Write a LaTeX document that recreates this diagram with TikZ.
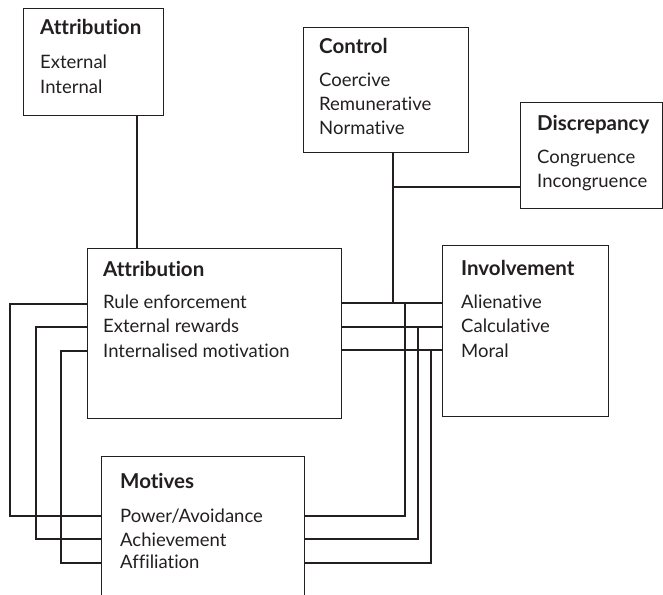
\documentclass[tikz,border=0pt]{standalone}
\usepackage{fontspec}
\setmainfont{Lato}[Ligatures=NoCommon]
\definecolor{ink}{HTML}{231F20}
\begin{document}
\begin{tikzpicture}[x=1pt,y=-1pt,
  link/.style={draw=ink,line width=1.1pt},
  panel/.style={draw=ink,line width=1.1pt,inner sep=0pt,anchor=north west},
  head/.style={anchor=base west,inner sep=0pt,font=\fontsize{20.5}{22}\selectfont\bfseries,text=ink},
  item/.style={anchor=base west,inner sep=0pt,font=\fontsize{18.5}{22}\selectfont,text=ink}]
\clip (0,0) rectangle (663,594);
\fill[white] (0,0) rectangle (663,594);

% boxes
\node[panel,minimum width=140pt,minimum height=107pt] (attrtop) at (23,8) {};
\node[panel,minimum width=165pt,minimum height=125pt] (control) at (303,27) {};
\node[panel,minimum width=142pt,minimum height=106pt] (discr) at (520,102) {};
\node[panel,minimum width=254pt,minimum height=170pt] (attrmid) at (87,248) {};
\node[panel,minimum width=166pt,minimum height=171pt] (invol) at (442,245) {};
\node[panel,minimum width=203pt,minimum height=160pt] (motives) at (101,456) {};

% headings
\node[head] (h1) at (40,35) {Attribution};
\node[head] (h2) at (319,54) {Control};
\node[head] (h3) at (537,130) {Discrepancy};
\node[head] (h4) at (103,276) {Attribution};
\node[head] (h5) at (461,275) {Involvement};
\node[head] (h6) at (120,488) {Motives};

% item lists
\node[item] (t1a) at (40,68) {External};
\node[item] (t1b) at (40,93) {Internal};
\node[item] (t2a) at (319,86) {Coercive};
\node[item] (t2b) at (319,110) {Remunerative};
\node[item] (t2c) at (319,134) {Normative};
\node[item] (t3a) at (537,163) {Congruence};
\node[item] (t3b) at (537,187) {Incongruence};
\node[item] (t4a) at (103,308) {Rule enforcement};
\node[item] (t4b) at (103,332) {External rewards};
\node[item] (t4c) at (103,357) {Internalised motivation};
\node[item] (t5a) at (461,308) {Alienative};
\node[item] (t5b) at (461,332) {Calculative};
\node[item] (t5c) at (461,357) {Moral};
\node[item] (t6a) at (120,522) {Power/Avoidance};
\node[item] (t6b) at (120,546) {Achievement};
\node[item] (t6c) at (120,568) {Affiliation};

% vertical link between the two attribution boxes
\draw[link] (attrtop.south -| 137,0) -- (attrmid.north -| 137,0);

% control and discrepancy feed the top link
\coordinate (jc) at (393,187);
\draw[link] (control.south -| jc) -- (jc |- 0,303);
\draw[link] (jc) -- (discr.west |- jc);

% attribution to involvement
\draw[link] (attrmid.east |- 0,303) -- (invol.west |- 0,303);
\draw[link] (attrmid.east |- 0,327) -- (invol.west |- 0,327);
\draw[link] (attrmid.east |- 0,350) -- (invol.west |- 0,350);

% attribution to motives (left loops)
\draw[link] (attrmid.west |- 0,304) -| (10,516) -- (motives.west |- 0,516);
\draw[link] (attrmid.west |- 0,327) -| (36,539) -- (motives.west |- 0,539);
\draw[link] (attrmid.west |- 0,351) -| (61,563) -- (motives.west |- 0,563);

% motives to involvement (right loops)
\draw[link] (motives.east |- 0,516) -| (405,303);
\draw[link] (motives.east |- 0,539) -| (418,327);
\draw[link] (motives.east |- 0,563) -| (431,350);
\end{tikzpicture}
\end{document}
